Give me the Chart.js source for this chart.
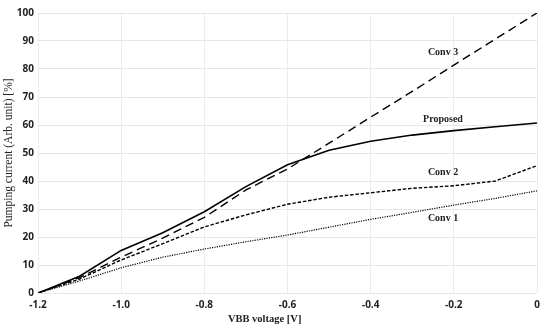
<!DOCTYPE html>
<html>
<head>
<meta charset="utf-8">
<script src="https://cdn.jsdelivr.net/npm/chart.js@4/dist/chart.umd.min.js"></script>
<style>
    body { margin: 0; background: #fff; }
    canvas { display: block; }
</style>
</head>
<body>
<canvas id="chart" width="550" height="328"></canvas>
<script>
// VBB voltage [V]
const voltages = [-1.2, -1.1, -1.0, -0.9, -0.8, -0.7, -0.6, -0.5, -0.4, -0.3, -0.2, -0.1, 0];

// pumping current [%]
const proposed = [0, 6, 15.2, 21.5, 29, 38, 45.8, 51, 54.2, 56.4, 58, 59.4, 60.7];
const conv3 = [0, 5.5, 12.8, 19.6, 27, 36.8, 44.3, 53.5, 62.8, 72, 81.4, 90.7, 100];
const conv2 = [0, 5, 11.8, 17.6, 23.6, 27.9, 31.7, 34.2, 35.8, 37.4, 38.3, 40, 45.5];
const conv1 = [0, 4.3, 9, 12.8, 15.7, 18.3, 20.7, 23.5, 26.3, 28.8, 31.4, 33.8, 36.5];

// inline series labels (data units)
const seriesLabels = [
    { text: 'Conv 3', x: -0.226, y: 86 },
    { text: 'Proposed', x: -0.226, y: 62 },
    { text: 'Conv 2', x: -0.226, y: 43.2 },
    { text: 'Conv 1', x: -0.226, y: 26.8 }
];

function toPoints(values) {
    return voltages.map((v, i) => ({ x: v, y: values[i] }));
}

const labelPlugin = {
    id: 'seriesLabels',
    afterDatasetsDraw(chart) {
        const ctx = chart.ctx;
        const xs = chart.scales.x, ys = chart.scales.y;
        ctx.save();
        ctx.font = 'bold 10px "Liberation Serif"';
        ctx.fillStyle = '#222';
        ctx.textAlign = 'center';
        ctx.textBaseline = 'middle';
        seriesLabels.forEach(l => {
            ctx.fillText(l.text, xs.getPixelForValue(l.x), ys.getPixelForValue(l.y));
        });
        // x axis title, sits a bit left of the plot centre in the original
        ctx.font = 'bold 10.5px "Liberation Serif"';
        ctx.fillText('VBB voltage [V]', xs.getPixelForValue(-0.655), chart.height - 9);
        ctx.restore();
    }
};

const lineStyle = (label, data, dash, width) => ({
    label: label,
    data: toPoints(data),
    borderColor: '#000',
    borderWidth: width,
    borderDash: dash,
    pointRadius: 0,
    fill: false,
    tension: 0
});

new Chart(document.getElementById('chart'), {
    type: 'line',
    data: {
        datasets: [
            lineStyle('Proposed', proposed, [], 1.6),
            lineStyle('Conv 3', conv3, [8.5, 5], 1.4),
            lineStyle('Conv 2', conv2, [3.5, 1.8], 1.4),
            lineStyle('Conv 1', conv1, [1.2, 1.2], 1.2)
        ]
    },
    options: {
        responsive: false,
        animation: false,
        layout: { padding: { top: 13, right: 13, left: 0, bottom: 0 } },
        plugins: {
            legend: { display: false },
            tooltip: { enabled: false }
        },
        scales: {
            x: {
                type: 'linear',
                min: -1.2,
                max: 0,
                afterFit: s => { s.height = 35; },
                border: { display: false },
                grid: { color: '#ececec', drawTicks: false },
                ticks: {
                    stepSize: 0.2,
                    padding: 6,
                    color: '#222',
                    font: { family: '"Open Sans"', size: 10, weight: 'bold' },
                    callback: v => Math.abs(v) < 1e-9 ? '0' : v.toFixed(1)
                }
            },
            y: {
                min: 0,
                max: 100,
                afterFit: s => { s.width = 38; },
                border: { display: false },
                grid: { color: '#e6e6e6', drawTicks: false },
                ticks: {
                    stepSize: 10,
                    padding: 4,
                    color: '#222',
                    font: { family: '"Open Sans"', size: 10, weight: 'bold' }
                },
                title: {
                    display: true,
                    text: 'Pumping current (Arb. unit) [%]',
                    color: '#222',
                    padding: { top: 2, bottom: 0 },
                    font: { family: '"Liberation Serif"', size: 11.5 }
                }
            }
        }
    },
    plugins: [labelPlugin]
});
</script>
</body>
</html>
